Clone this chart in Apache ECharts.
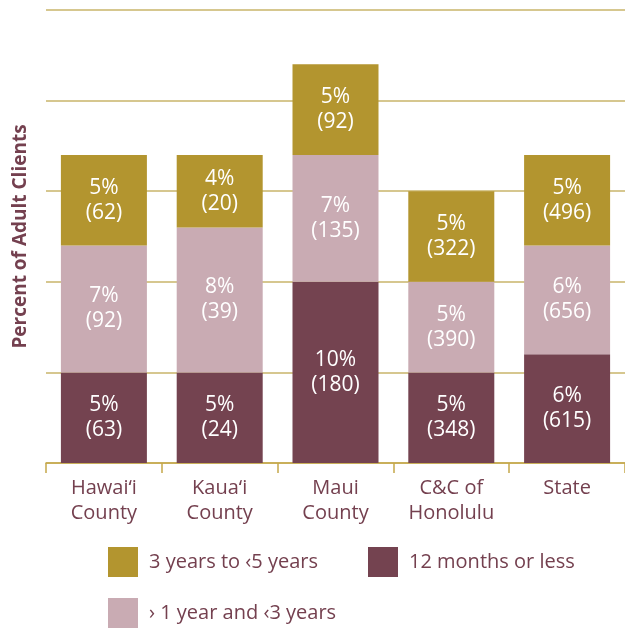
<!DOCTYPE html>
<html>
<head>
<meta charset="utf-8">
<script src="https://cdn.jsdelivr.net/npm/echarts@6/dist/echarts.min.js"></script>
<style>
  html, body { margin: 0; padding: 0; background: #fff; }
  #chart { width: 625px; height: 628px; }
</style>
</head>
<body>
<div id="chart"></div>
<script>
var categories = ['Hawai‘i\nCounty', 'Kaua‘i\nCounty', 'Maui\nCounty', 'C&C of\nHonolulu', 'State'];
// percent values and client counts per group
var shortPct = [5, 5, 10, 5, 6];
var shortN = [63, 24, 180, 348, 615];
var midPct = [7, 8, 7, 5, 6];
var midN = [92, 39, 135, 390, 656];
var longPct = [5, 4, 5, 5, 5];
var longN = [62, 20, 92, 322, 496];

var names = ['12 months or less', '› 1 year and ‹3 years', '3 years to ‹5 years'];
var colors = ['#744350', '#C9ABB3', '#B3952F'];
var textColor = '#74404F';
var font = 'Open Sans';

function mkSeries(name, pct, counts, color) {
  return {
    name: name,
    type: 'bar',
    stack: 'all',
    barWidth: 86,
    itemStyle: { color: color },
    data: pct,
    label: {
      show: true,
      position: 'inside',
      color: '#fff',
      fontFamily: font,
      fontSize: 21,
      lineHeight: 25,
      formatter: function (p) { return p.value + '%\n(' + counts[p.dataIndex] + ')'; }
    }
  };
}

var chart = echarts.init(document.getElementById('chart'));
var legendBase = {
  orient: 'horizontal',
  itemWidth: 30,
  itemHeight: 30,
  itemGap: 12,
  icon: 'rect',
  textStyle: { color: textColor, fontFamily: font, fontSize: 20, padding: [0, 0, 0, 6] },
  selectedMode: false
};
chart.setOption({
  animation: false,
  grid: { left: 46, top: 10, width: 583, bottom: 165, containLabel: false },
  legend: [
    Object.assign({}, legendBase, { data: [names[2]], left: 103, top: 542 }),
    Object.assign({}, legendBase, { data: [names[0]], left: 363, top: 542 }),
    Object.assign({}, legendBase, { data: [names[1]], left: 103, top: 593 })
  ],
  xAxis: {
    type: 'category',
    data: categories,
    axisLine: { lineStyle: { color: '#C5A84A', width: 1.5 } },
    axisTick: { show: true, length: 10, lineStyle: { color: '#C5A84A', width: 1.5 } },
    axisLabel: { color: textColor, fontFamily: font, fontSize: 20, lineHeight: 25, margin: 13 }
  },
  yAxis: {
    type: 'value',
    min: 0,
    max: 25,
    interval: 5,
    name: 'Percent of Adult Clients',
    nameLocation: 'middle',
    nameGap: 16,
    nameTextStyle: { color: textColor, fontFamily: font, fontSize: 19, fontWeight: 'bold' },
    axisLine: { show: false },
    axisTick: { show: false },
    axisLabel: { show: false },
    splitLine: { lineStyle: { color: '#C9B46A', width: 1.5 } }
  },
  series: [
    mkSeries(names[0], shortPct, shortN, colors[0]),
    mkSeries(names[1], midPct, midN, colors[1]),
    mkSeries(names[2], longPct, longN, colors[2])
  ]
});
</script>
</body>
</html>
